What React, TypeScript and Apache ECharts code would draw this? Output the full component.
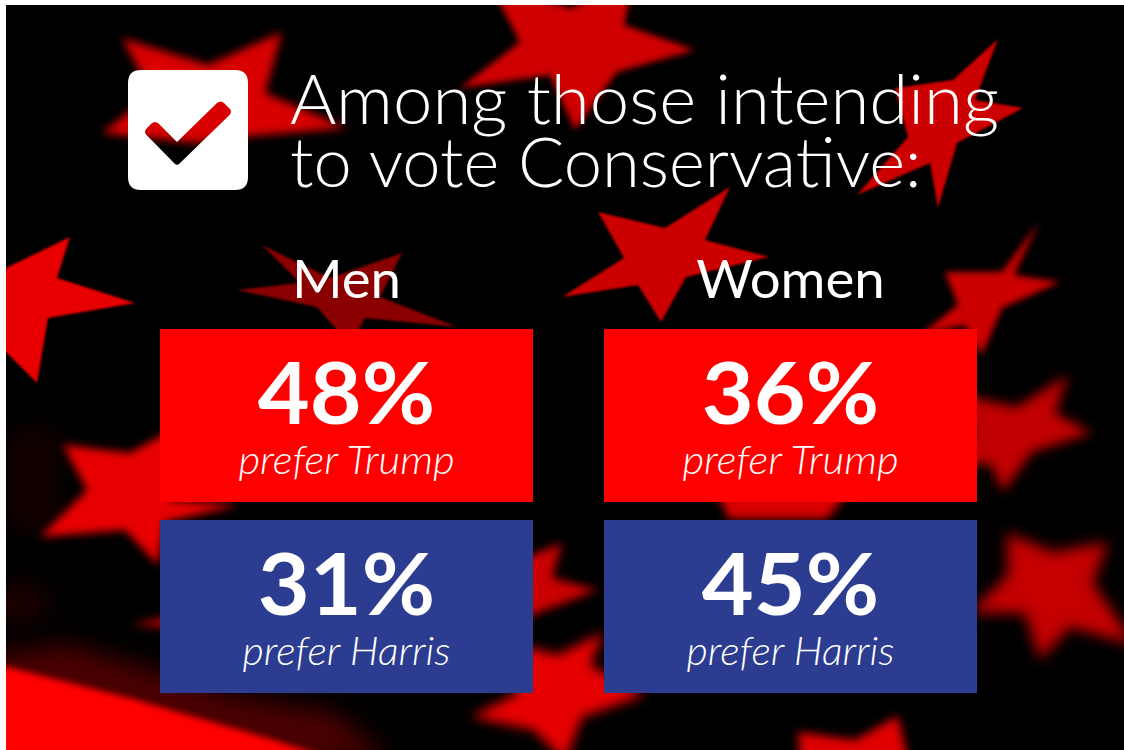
import React, { useEffect, useRef } from "react";
import * as echarts from "echarts";

const TITLE_LINES = ["Among those intending", "to vote Conservative:"];
const GROUPS = ["Men", "Women"];
const TRUMP_SHARE = [48, 36];
const HARRIS_SHARE = [31, 45];
const TRUMP_LABEL = "prefer Trump";
const HARRIS_LABEL = "prefer Harris";

const CHECK_PATH =
  "M141 70 H235 Q248 70 248 83 V177 Q248 190 235 190 H141 Q128 190 128 177 V83 Q128 70 141 70 Z " +
  "M177 142 L158.5 123.5 Q155 120.5 151.5 123.5 L146.5 128.5 Q143.5 132 146.5 135 L174.5 163.5 Q177 166 179.5 163.5 L229.5 115 Q232.5 111.5 229.5 108.5 L224 103 Q220.5 100 217 103 Z";

type Shape = { c: string; b: number; p: number[][] };
const BACKDROP: Shape[] = [
  { c: "#2a0000", b: 14, p: [[-20, 590], [45, 590], [45, 615], [-20, 615]] },
  { c: "#120000", b: 10, p: [[6, 430], [60, 430], [60, 530], [6, 530]] },
  { c: "#4a0000", b: 12, p: [[-20, 655], [70, 645], [235, 695], [335, 712], [390, 760], [-20, 760]] },
  { c: "#ff0000", b: 3, p: [[-20, 660], [133, 699], [267, 738], [345, 762], [-20, 762]] },
  { c: "#d80000", b: 4, p: [[122, 38], [208, 65], [282, 32], [265, 93], [347, 128], [250, 136], [195, 143], [102, 133], [128, 113], [150, 90]] },
  { c: "#cf0000", b: 3, p: [[490, -15], [571, 8], [635, -25], [624, 25], [695, 50], [617, 72], [575, 130], [550, 75], [460, 88], [520, 42]] },
  { c: "#cc0000", b: 0.8, p: [[998, 39], [975, 100], [1023, 108], [957, 143], [938, 208], [930, 163], [857, 195], [908, 137], [895, 88], [953, 80]] },
  { c: "#cc0000", b: 0.8, p: [[730, 187], [705, 240], [769, 257], [686, 277], [661, 322], [638, 285], [562, 297], [624, 258], [598, 212], [665, 228]] },
  { c: "#cc0000", b: 3, p: [[1039, 222], [1014, 275], [1060, 282], [1002, 308], [982, 355], [965, 325], [920, 335], [958, 305], [945, 272], [1002, 272]] },
  { c: "#c00000", b: 6, p: [[1068, 375], [1055, 413], [1092, 433], [1032, 452], [1003, 492], [990, 463], [940, 470], [975, 435], [960, 395], [1017, 407]] },
  { c: "#c40000", b: 7, p: [[1007, 533], [1053, 552], [1108, 542], [1093, 583], [1135, 645], [1070, 627], [1040, 660], [1025, 613], [970, 613], [1008, 575]] },
  { c: "#cc0000", b: 5, p: [[562, 543], [552, 578], [598, 590], [532, 615], [500, 640], [400, 640], [130, 625], [300, 590], [450, 540], [520, 560]] },
  { c: "#e60000", b: 6, p: [[604, 632], [590, 665], [645, 695], [582, 717], [565, 762], [534, 730], [471, 717], [518, 693], [500, 640], [558, 655]] },
  { c: "#e00000", b: 5, p: [[798, 732], [855, 740], [898, 716], [908, 760], [800, 760]] },
  { c: "#d80000", b: 5, p: [[716, 490], [850, 490], [827, 519], [729, 519]] },
  { c: "#e80000", b: 0.8, p: [[70, 237], [57, 278], [135, 303], [48, 318], [37, 383], [6, 352], [-20, 352], [-20, 268], [6, 268]] },
  { c: "#8a0000", b: 0.8, p: [[262, 245], [330, 278], [402, 253], [380, 297], [457, 327], [365, 318], [350, 345], [317, 307], [237, 290], [300, 283]] },
  { c: "#e80000", b: 4, p: [[63, 445], [130, 453], [190, 420], [170, 500], [240, 505], [165, 522], [158, 565], [125, 530], [40, 537], [87, 490]] },
];

function paintBackdrop(): string {
  const cv = document.createElement("canvas");
  cv.width = 1124;
  cv.height = 750;
  const ctx = cv.getContext("2d")!;
  ctx.beginPath();
  ctx.rect(6, 5, 1118, 745);
  ctx.clip();
  ctx.fillStyle = "#000";
  ctx.fillRect(0, 0, 1124, 750);
  BACKDROP.forEach((s) => {
    (ctx as any).filter = `blur(${s.b}px)`;
    ctx.fillStyle = s.c;
    ctx.beginPath();
    s.p.forEach(([x, y], i) => (i ? ctx.lineTo(x, y) : ctx.moveTo(x, y)));
    ctx.closePath();
    ctx.fill();
  });
  return cv.toDataURL("image/png");
}

const FONT = "Lato, 'Noto Sans', sans-serif";
const TITLE_STRETCH = [1.04, 1.01];

export default function App() {
  const ref = useRef<HTMLDivElement>(null);
  useEffect(() => {
    document.body.style.margin = "0";
    echarts.graphic.registerShape("checkbox", echarts.graphic.extendPath(CHECK_PATH, {}));
    const chart = echarts.init(ref.current!, null, { renderer: "svg" });
    const elements: any[] = [
      { type: "image", x: 0, y: 0, z: 0, style: { image: paintBackdrop(), x: 0, y: 0, width: 1124, height: 750 } },
      { type: "checkbox", x: 0, y: 0, z: 2, style: { fill: "#fff" } },
    ];
    TITLE_LINES.forEach((t, i) => {
      elements.push({
        type: "text", x: 290, y: 98 + i * 63.5, z: 3, scaleX: TITLE_STRETCH[i], scaleY: 1,
        style: { text: t, fill: "#fff", font: `300 68px ${FONT}`, textAlign: "left", textVerticalAlign: "middle" },
      });
    });
    GROUPS.forEach((g, i) => {
      const left = 160 + i * 444;
      const cx = left + 186.5;
      elements.push({
        type: "text", x: cx, y: 278, z: 3, scaleX: 1.05,
        style: { text: g, fill: "#fff", font: `400 52px ${FONT}`, textAlign: "center", textVerticalAlign: "middle" },
      });
      elements.push({ type: "rect", z: 1, shape: { x: left, y: 329, width: 373, height: 173 }, style: { fill: "#ff0000" } });
      elements.push({ type: "rect", z: 1, shape: { x: left, y: 520, width: 373, height: 173 }, style: { fill: "#2c3c90" } });
      [
        { y: 329, v: TRUMP_SHARE[i], l: TRUMP_LABEL, s: 1.05 },
        { y: 520, v: HARRIS_SHARE[i], l: HARRIS_LABEL, s: 1.03 },
      ].forEach((cell) => {
        elements.push({
          type: "text", x: cx, y: cell.y + 62, z: 3, scaleX: 1.03,
          style: { text: `${cell.v}%`, fill: "#fff", font: `700 87px ${FONT}`, textAlign: "center", textVerticalAlign: "middle" },
        });
        elements.push({
          type: "text", x: cx, y: cell.y + 130, z: 3, scaleX: cell.s,
          style: { text: cell.l, fill: "#fff", font: `italic 300 40px ${FONT}`, textAlign: "center", textVerticalAlign: "middle" },
        });
      });
    });
    chart.setOption({ animation: false, graphic: { elements } });
    return () => chart.dispose();
  }, []);
  return <div ref={ref} style={{ position: "absolute", left: 0, top: 0, width: 1124, height: 750, background: "#fff" }} />;
}
